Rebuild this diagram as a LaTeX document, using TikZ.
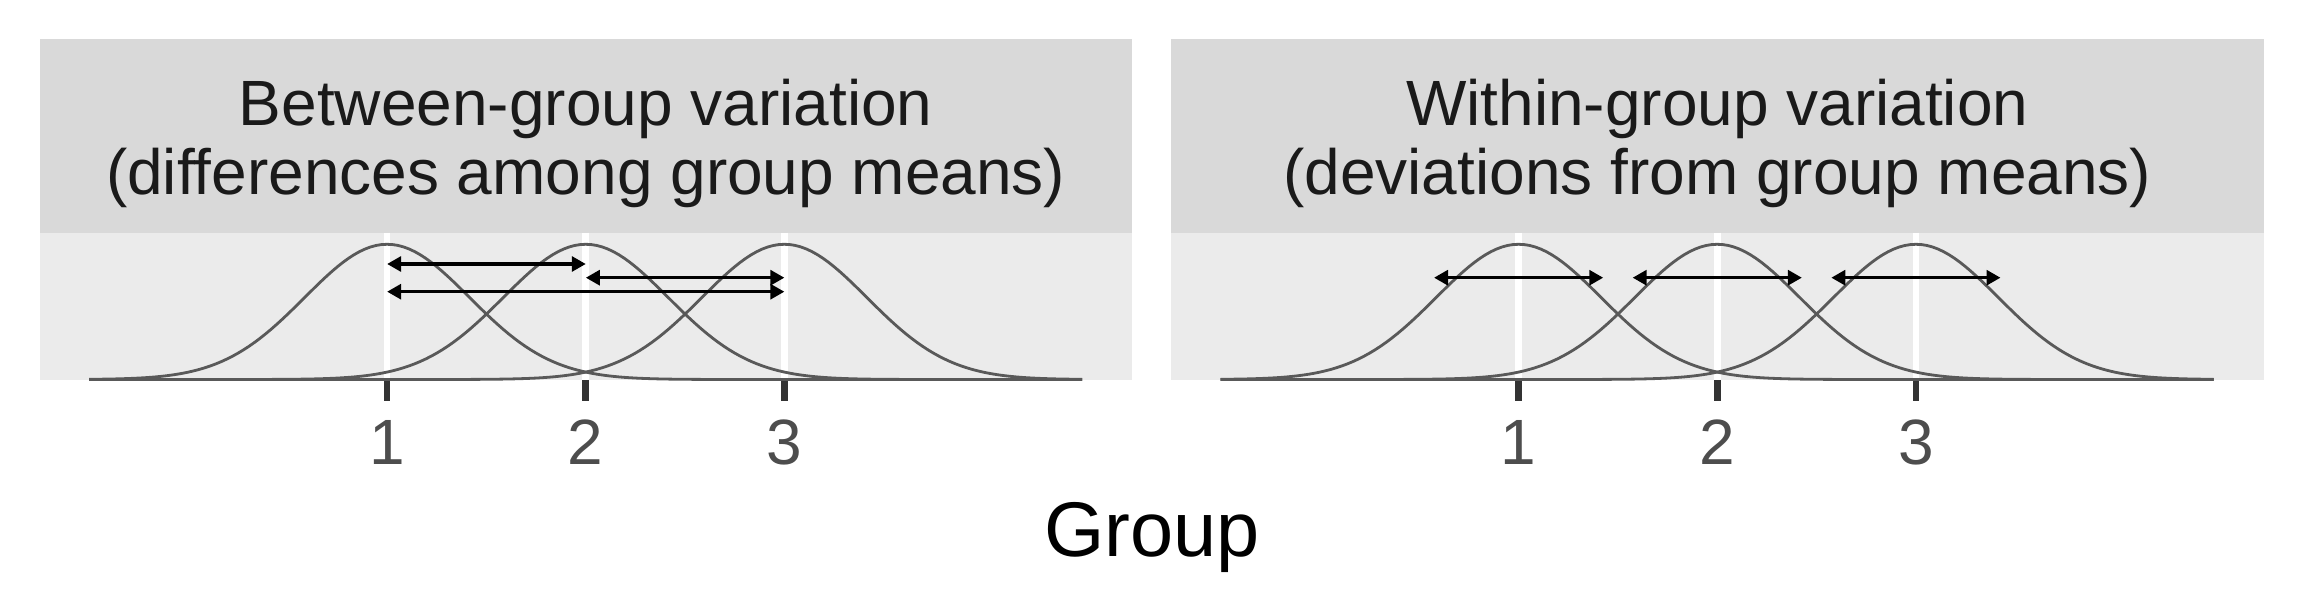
\documentclass[tikz,border=0pt]{standalone}
\usepackage{fontspec}
\setmainfont{Liberation Sans}
\usetikzlibrary{arrows.meta}
\definecolor{stripgray}{HTML}{D9D9D9}
\definecolor{panelgray}{HTML}{EBEBEB}
\definecolor{curvegray}{HTML}{595959}
\definecolor{tickgray}{HTML}{333333}
\definecolor{labelgray}{HTML}{4D4D4D}
\definecolor{striptext}{HTML}{1A1A1A}
\tikzset{
  curve/.style={draw=curvegray, line width=1.4pt, line join=round},
  gridline/.style={draw=white, line width=3.3pt},
  tickmark/.style={draw=tickgray, line width=3.3pt},
  darrow/.style={draw=black, line width=1.75pt,
    {Triangle[length=7pt,width=7.4pt]}-{Triangle[length=7pt,width=7.4pt]}},
  ticklabel/.style={anchor=base, text=labelgray, font=\fontsize{32}{38}\selectfont, inner sep=0pt},
  striplabel/.style={anchor=base, text=striptext, font=\fontsize{32}{34.65}\selectfont, align=center, inner sep=0pt},
  axistitle/.style={anchor=base, text=black, font=\fontsize{38.75}{46}\selectfont, inner sep=0pt},
}
\begin{document}
\begin{tikzpicture}[x=0.5pt, y=-0.5pt]
\useasboundingbox (0,0) rectangle (2304,614);
\fill[white] (0,0) rectangle (2304,614);
% panels
\foreach \ox/\nm in {39.5/L, 1171/R} {
  \fill[stripgray] (\ox,39) rectangle ++(1092.5,193.7);
  \fill[panelgray] (\ox,232.7) rectangle ++(1092.5,147.3);
  \foreach \m in {1,2,3} {
    \draw[gridline] ({\ox+(\m+0.75)*198.64},232.7) -- ++(0,147.3);
    \draw[tickmark] ({\ox+(\m+0.75)*198.64},380) -- ++(0,21);
    \node[ticklabel] (\nm tl\m) at ({\ox+(\m+0.75)*198.64},465) {\m};
  }
  \foreach \m in {1,2,3} {
    \draw[curve] plot[domain=-0.5:4.5, samples=181, variable=\t]
      ({\ox+(\t+0.75)*198.64},{379.5-135.2*exp(-((\t-\m)^2)/0.34445)});
  }
}
% strip labels (base anchor = baseline of the last line)
\node[striplabel] (stripL) at (585.75,195) {Between-group variation\\(differences among group means)};
\node[striplabel] (stripR) at (1717.25,195) {Within-group variation\\(deviations from group means)};
% between-group arrows
\coordinate (a1) at (387.1,264);   \coordinate (a2) at (585.8,264);
\coordinate (b1) at (585.8,277.7); \coordinate (b2) at (784.4,277.7);
\coordinate (c1) at (387.1,291.7); \coordinate (c2) at (784.4,291.7);
\draw[darrow] (a1) -- (a2);
\draw[darrow] (b1) -- (b2);
\draw[darrow] (c1) -- (c2);
% within-group arrows
\coordinate (d1) at ({1171+(1-0.426+0.75)*198.64},277.7); \coordinate (d2) at ({1171+(1+0.426+0.75)*198.64},277.7);
\coordinate (e1) at ({1171+(2-0.426+0.75)*198.64},277.7); \coordinate (e2) at ({1171+(2+0.426+0.75)*198.64},277.7);
\coordinate (f1) at ({1171+(3-0.426+0.75)*198.64},277.7); \coordinate (f2) at ({1171+(3+0.426+0.75)*198.64},277.7);
\draw[darrow] (d1) -- (d2);
\draw[darrow] (e1) -- (e2);
\draw[darrow] (f1) -- (f2);
\node[axistitle] (title) at (1152,557) {Group};
\end{tikzpicture}
\end{document}
